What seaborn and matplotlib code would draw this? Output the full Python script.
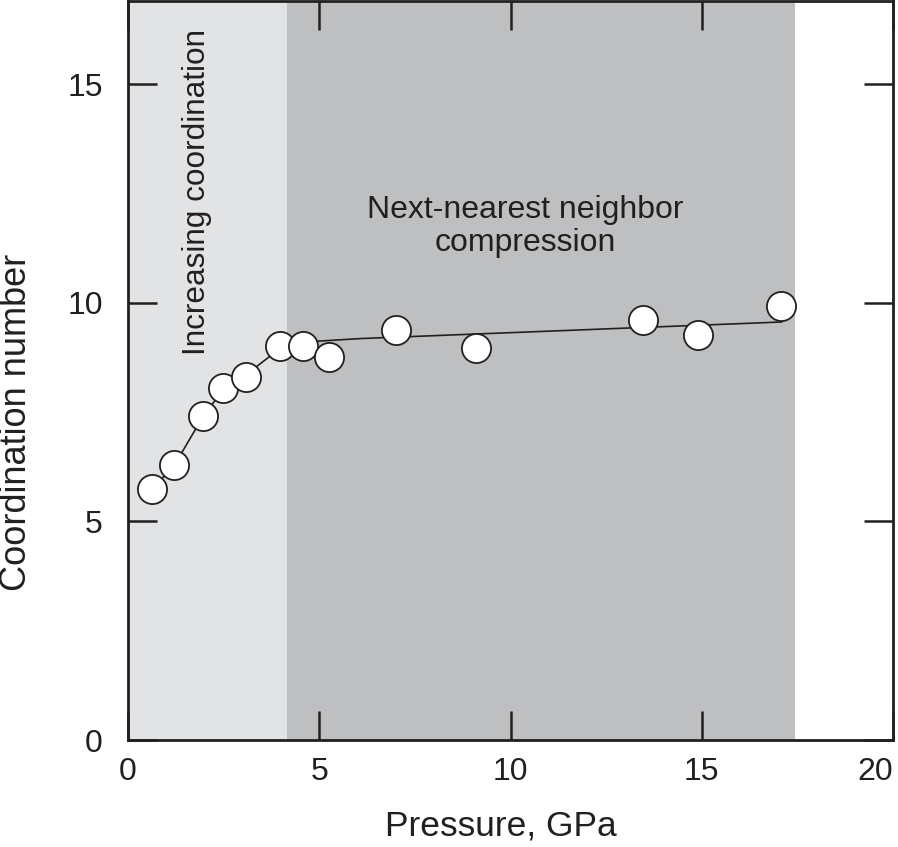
import numpy as np
import pandas as pd
import matplotlib
matplotlib.use("Agg")
import matplotlib.pyplot as plt
import seaborn as sns

# measured points (pressure in GPa, coordination number)
pressure = [0.62, 1.21, 1.97, 2.48, 3.08, 3.97, 4.57, 5.25, 7.01, 9.10, 13.47, 14.89, 17.08]
coordination = [5.73, 6.28, 7.41, 8.05, 8.29, 9.02, 9.02, 8.77, 9.37, 8.97, 9.60, 9.27, 9.92]

# guide line drawn through the points
fit_p = [0.62, 1.21, 1.97, 2.48, 3.08, 3.97, 4.57, 6.07, 17.1]
fit_c = [5.73, 6.28, 7.41, 8.00, 8.35, 8.95, 9.10, 9.18, 9.56]

# pressure regimes
regimes = ["Increasing coordination", "Next-nearest neighbor\ncompression"]
regime_start = [0.0, 4.16]
regime_end = [4.16, 17.44]
regime_colors = ["#e2e3e5", "#bebfc1"]

xticks = [0, 5, 10, 15, 20]
yticks = [0, 5, 10, 15]

sns.set_theme(style="ticks")
plt.rcParams["font.family"] = ["Liberation Sans", "DejaVu Sans"]
ink = "#231f20"

df = pd.DataFrame({"p": pressure, "cn": coordination})
fit = pd.DataFrame({"p": fit_p, "cn": fit_c})

fig = plt.figure(figsize=(8.98, 8.47), dpi=100)
ax = fig.add_axes([128/898, 107/847, 765/898, 739/847])

for s, e, c in zip(regime_start, regime_end, regime_colors):
    ax.axvspan(s, e, color=c, lw=0, zorder=0)

sns.lineplot(data=fit, x="p", y="cn", ax=ax, color=ink, lw=1.2, zorder=2, sort=False)
sns.scatterplot(data=df, x="p", y="cn", ax=ax, s=440, color="white",
                edgecolor=ink, linewidth=1.3, zorder=3)

ax.set_xlim(0, 20)
ax.set_ylim(0, 16.9)
ax.set_xticks(xticks)
ax.set_yticks(yticks)
ax.tick_params(direction="in", length=21, width=1.8, color=ink,
               top=True, right=True, labelsize=23, labelcolor=ink)
ax.tick_params(axis="x", pad=12)
ax.tick_params(axis="y", pad=18)
# last label sits inside the right edge, as in the original
ax.get_xticklabels()[-1].set_ha("right")
for sp in ax.spines.values():
    sp.set_visible(True)
    sp.set_linewidth(2)
    sp.set_color(ink)

ax.set_xlabel("Pressure, GPa", fontsize=25.5, color=ink)
ax.set_ylabel("Coordination number", fontsize=26, color=ink)
ax.xaxis.set_label_coords(0.487, -0.094)
ax.yaxis.set_label_coords(-0.123, 0.43)

ax.text(0.090, 0.742, regimes[0], transform=ax.transAxes, rotation=90,
        ha="center", va="center", fontsize=22.7, color=ink)
ax.text(0.519, 0.695, regimes[1], transform=ax.transAxes,
        ha="center", va="center", fontsize=23, color=ink, linespacing=1.15)

fig.savefig("out.png", dpi=100)
